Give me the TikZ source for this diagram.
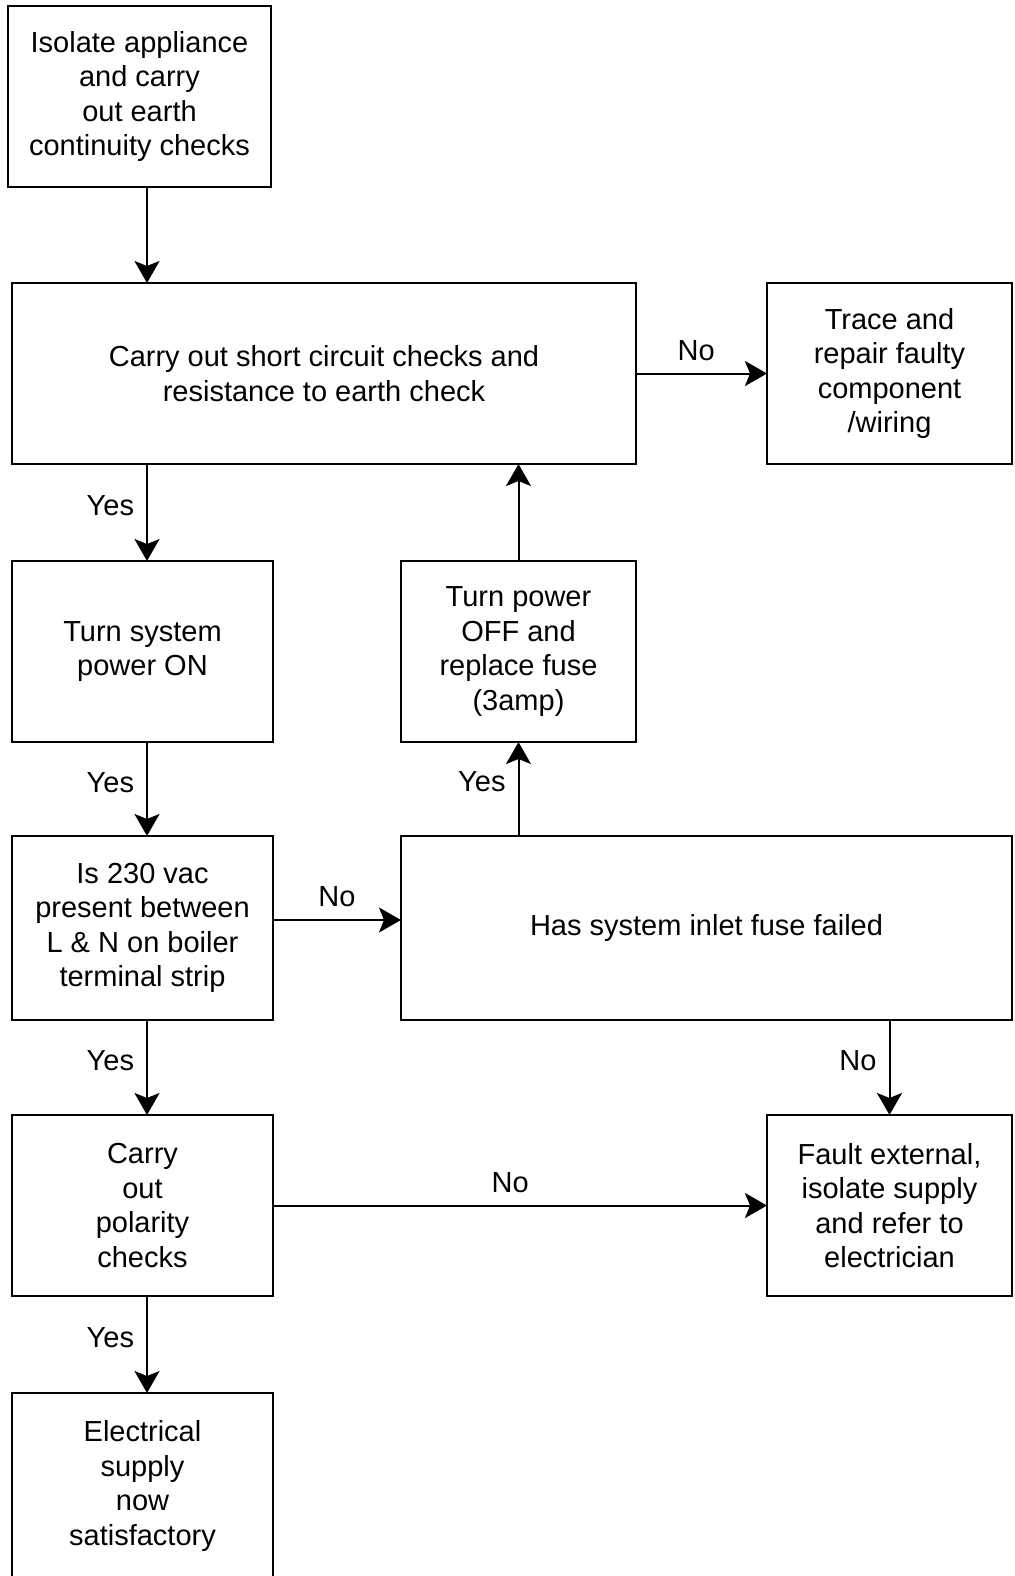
\documentclass[tikz,border=0pt]{standalone}
\usepackage{fontspec}
\setmainfont{Liberation Sans}
\usetikzlibrary{arrows.meta,positioning}

\begin{document}
\begin{tikzpicture}[
    node distance=48pt,
    box/.style={draw, line width=1pt, outer sep=0pt, align=center, minimum width=130.5pt, minimum height=90.5pt, font=\fontsize{14.5}{17.2}\selectfont},
    arr/.style={-{Stealth[length=11pt, width=12.5pt, inset=2.5pt]}, line width=1pt},
    lbl/.style={inner sep=6pt, font=\fontsize{14.5}{17.2}\selectfont}
]
\useasboundingbox (0,0) rectangle (507pt,-788pt);
\node[box, minimum width=131.5pt, anchor=north west] (isolate) at (4pt,-3pt) {Isolate appliance\\and carry\\out earth\\continuity checks};
\node[box, minimum width=312pt, below right=48pt and 2pt of isolate.south west] (shortckt) {Carry out short circuit checks and\\resistance to earth check};
\node[box, minimum width=122.5pt, right=65.5pt of shortckt] (trace) {Trace and\\repair faulty\\component\\/wiring};
\node[box, below right=48.5pt and 0pt of shortckt.south west] (poweron) {Turn system\\power ON};
\node[box, minimum width=117.5pt, right=64pt of poweron] (poweroff) {Turn power\\OFF and\\replace fuse\\(3amp)};
\node[box, minimum height=92pt, below=47pt of poweron] (vac) {Is 230 vac\\present between\\L \& N on boiler\\terminal strip};
\node[box, minimum width=305.5pt, minimum height=92pt, right=64pt of vac] (fuse) {Has system inlet fuse failed};
\node[box, below=47.5pt of vac] (polarity) {Carry\\out\\polarity\\checks};
\node[box, minimum width=122.5pt, right=247pt of polarity] (fault) {Fault external,\\isolate supply\\and refer to\\electrician};
\node[box, minimum height=93pt, below=48.5pt of polarity] (supply) {Electrical\\supply\\now\\satisfactory};

\draw[arr] ([xshift=2.25pt]poweron.north |- isolate.south) -- ([xshift=2.25pt]poweron.north |- shortckt.north);
\draw[arr] ([xshift=2.25pt]poweron.north |- shortckt.south) -- node[lbl, left, pos=0.43] {Yes} ([xshift=2.25pt]poweron.north);
\draw[arr] ([xshift=2.25pt]poweron.south) -- node[lbl, left, pos=0.43] {Yes} ([xshift=2.25pt]vac.north);
\draw[arr] ([xshift=2.25pt]vac.south) -- node[lbl, left, pos=0.43] {Yes} ([xshift=2.25pt]polarity.north);
\draw[arr] ([xshift=2.25pt]polarity.south) -- node[lbl, left, pos=0.43] {Yes} ([xshift=2.25pt]supply.north);
\draw[arr] (shortckt.east) -- node[lbl, above, pos=0.46] {No} (trace.west);
\draw[arr] (poweroff.north) -- (poweroff.north |- shortckt.south);
\draw[arr] (poweroff.south |- fuse.north) -- node[lbl, left, pos=0.58] {Yes} (poweroff.south);
\draw[arr] ([yshift=4pt]vac.east) -- node[lbl, above] {No} ([yshift=4pt]vac.east -| fuse.west);
\draw[arr] (fault.north |- fuse.south) -- node[lbl, left, pos=0.43] {No} (fault.north);
\draw[arr] (polarity.east) -- node[lbl, above, pos=0.48] {No} (fault.west);
\end{tikzpicture}
\end{document}
